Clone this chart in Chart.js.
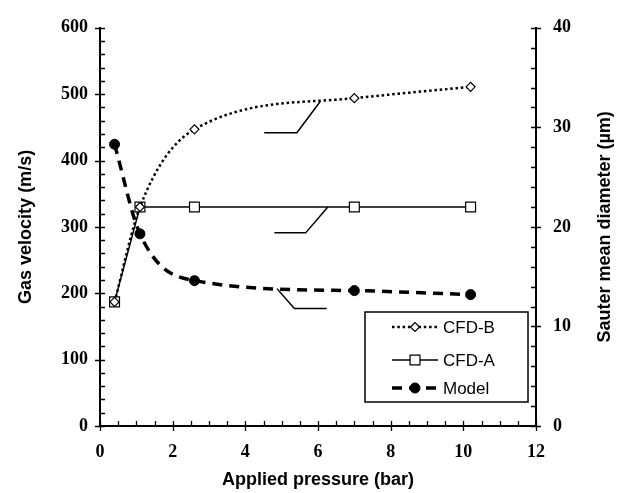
<!DOCTYPE html>
<html>
<head>
<meta charset="utf-8">
<script src="https://cdn.jsdelivr.net/npm/chart.js@4.4.1/dist/chart.umd.min.js"></script>
<style>html,body{margin:0;padding:0;background:#fff;}canvas{display:block;}</style>
</head>
<body>
<canvas id="c" width="627" height="493"></canvas>
<script>
// ---- data ----
const pressure = [0.4, 1.1, 2.6, 7.0, 10.2];
const cfdB = [187, 330, 447, 494, 511];      // gas velocity (m/s), left axis
const cfdA = [187, 330, 330, 330, 330];      // gas velocity (m/s), left axis
const model = [28.3, 19.3, 14.6, 13.6, 13.2]; // Sauter mean diameter (um), right axis
const seriesLabels = ['CFD-B', 'CFD-A', 'Model'];
const xTicks = [0, 2, 4, 6, 8, 10, 12];
const yLeftTicks = [0, 100, 200, 300, 400, 500, 600];
const yRightTicks = [0, 10, 20, 30, 40];
const rightTitle = 'Sauter mean diameter (µm)';
// callout leader lines (data units)
const calloutBx = [4.52, 5.42, 6.06], calloutBy = [442, 442, 489];
const calloutAx = [4.80, 5.66, 6.27], calloutAy = [291, 291, 330];
const calloutMx = [4.87, 5.35, 6.24], calloutMy = [13.8, 11.8, 11.8];

const pts = (xs, ys) => xs.map((x, i) => ({x: x, y: ys[i]}));

const tickFont = {family: '"Liberation Serif", "Times New Roman", serif', size: 18, weight: 'bold'};
const titleFont = {family: '"Liberation Sans", Arial, sans-serif', size: 18, weight: 'bold', lineHeight: 1.2};

const calloutStyle = {borderColor: '#000', borderWidth: 1.5, pointRadius: 0, tension: 0, fill: false, isCallout: true};

// custom minor/major tick marks + right-hand title (reads bottom to top)
const tickPlugin = {
  id: 'ticks2',
  afterDraw(chart) {
    const ctx = chart.ctx, x = chart.scales.x, yl = chart.scales.yL, yr = chart.scales.yR;
    const a = chart.chartArea;
    ctx.save();
    ctx.strokeStyle = '#000';
    ctx.lineWidth = 1.3;
    ctx.beginPath();
    for (let v = 0; v <= 12.001; v += 0.5) {
      const p = Math.round(x.getPixelForValue(v)) + 0.5;
      const major = Math.abs(v / 2 - Math.round(v / 2)) < 1e-6;
      if (major) { ctx.moveTo(p, a.bottom - 5); ctx.lineTo(p, a.bottom + 5); }
      else { ctx.moveTo(p, a.bottom); ctx.lineTo(p, a.bottom - 5); }
    }
    for (let v = 0; v <= 600.001; v += 20) {
      const p = Math.round(yl.getPixelForValue(v)) + 0.5;
      const major = v % 100 === 0;
      if (major) { ctx.moveTo(a.left - 5, p); ctx.lineTo(a.left + 5, p); }
      else { ctx.moveTo(a.left, p); ctx.lineTo(a.left + 5, p); }
    }
    for (let v = 0; v <= 40.001; v += 2) {
      const p = Math.round(yr.getPixelForValue(v)) + 0.5;
      const major = v % 10 === 0;
      if (major) { ctx.moveTo(a.right - 5, p); ctx.lineTo(a.right + 5, p); }
      else { ctx.moveTo(a.right, p); ctx.lineTo(a.right - 5, p); }
    }
    ctx.stroke();
    // right title
    ctx.translate(yr.right - 22, (a.top + a.bottom) / 2);
    ctx.rotate(-Math.PI / 2);
    ctx.fillStyle = '#000';
    ctx.font = 'bold 18px "Liberation Sans", Arial, sans-serif';
    ctx.textAlign = 'center';
    ctx.textBaseline = 'middle';
    ctx.fillText(rightTitle, 0, 0);
    ctx.restore();
  }
};

function drawMarker(ctx, style, r, cx, cy, fill, stroke, lw) {
  ctx.save();
  ctx.setLineDash([]);
  ctx.lineWidth = lw;
  ctx.strokeStyle = stroke;
  ctx.fillStyle = fill;
  ctx.beginPath();
  if (style === 'rectRot') {
    ctx.moveTo(cx - r, cy); ctx.lineTo(cx, cy - r); ctx.lineTo(cx + r, cy); ctx.lineTo(cx, cy + r); ctx.closePath();
  } else if (style === 'rect') {
    const s = r * Math.SQRT1_2;
    ctx.rect(cx - s, cy - s, 2 * s, 2 * s);
  } else {
    ctx.arc(cx, cy, r, 0, Math.PI * 2);
  }
  ctx.fill();
  ctx.stroke();
  ctx.restore();
}

// legend drawn inside the plot area
const legendPlugin = {
  id: 'innerLegend',
  afterDraw(chart) {
    const ctx = chart.ctx, a = chart.chartArea;
    const bx = a.right - 171, by = a.bottom - 114, bw = 163, bh = 90;
    ctx.save();
    ctx.fillStyle = '#fff';
    ctx.fillRect(bx, by, bw, bh);
    ctx.strokeStyle = '#000';
    ctx.lineWidth = 1.5;
    ctx.strokeRect(bx, by, bw, bh);
    const rows = [by + 15, by + 48, by + 76];
    chart.data.datasets.forEach((ds, i) => {
      if (ds.isCallout) return;
      const y = rows[i];
      const x0 = bx + 27, x1 = bx + 73, xm = (x0 + x1) / 2;
      ctx.save();
      ctx.strokeStyle = ds.borderColor;
      ctx.lineWidth = ds.borderWidth;
      ctx.setLineDash(ds.borderDash || []);
      ctx.beginPath(); ctx.moveTo(x0, y); ctx.lineTo(x1, y); ctx.stroke();
      ctx.restore();
      drawMarker(ctx, ds.pointStyle, ds.pointRadius, xm, y, ds.pointBackgroundColor, ds.pointBorderColor, ds.pointBorderWidth);
      ctx.fillStyle = '#000';
      ctx.font = '17px "Liberation Sans", Arial, sans-serif';
      ctx.textBaseline = 'middle';
      ctx.textAlign = 'left';
      ctx.fillText(ds.label, x1 + 5, y + 1);
    });
    ctx.restore();
  }
};

new Chart(document.getElementById('c'), {
  type: 'line',
  data: {
    datasets: [
      {label: seriesLabels[0], data: pts(pressure, cfdB), yAxisID: 'yL',
       borderColor: '#000', borderWidth: 2.5, borderDash: [2.5, 2.8], cubicInterpolationMode: 'monotone',
       pointStyle: 'rectRot', pointRadius: 4.5, pointBackgroundColor: '#fff', pointBorderColor: '#000', pointBorderWidth: 1.2},
      {label: seriesLabels[1], data: pts(pressure, cfdA), yAxisID: 'yL',
       borderColor: '#000', borderWidth: 1.5, tension: 0,
       pointStyle: 'rect', pointRadius: 7, pointBackgroundColor: '#fff', pointBorderColor: '#000', pointBorderWidth: 1.2},
      {label: seriesLabels[2], data: pts(pressure, model), yAxisID: 'yR',
       borderColor: '#000', borderWidth: 3.5, borderDash: [10, 7], cubicInterpolationMode: 'monotone',
       pointStyle: 'circle', pointRadius: 5, pointBackgroundColor: '#000', pointBorderColor: '#000', pointBorderWidth: 1},
      Object.assign({label: 'cB', data: pts(calloutBx, calloutBy), yAxisID: 'yL'}, calloutStyle),
      Object.assign({label: 'cA', data: pts(calloutAx, calloutAy), yAxisID: 'yL'}, calloutStyle),
      Object.assign({label: 'cM', data: pts(calloutMx, calloutMy), yAxisID: 'yR'}, calloutStyle)
    ]
  },
  options: {
    responsive: false,
    animation: false,
    devicePixelRatio: 1,
    layout: {padding: {top: 21, left: 0, right: 0, bottom: 0}},
    plugins: {legend: {display: false}, tooltip: {enabled: false}},
    scales: {
      x: {
        type: 'linear', min: 0, max: 12,
        afterBuildTicks: s => { s.ticks = xTicks.map(v => ({value: v})); },
        afterFit: s => { s.height = 67; },
        grid: {display: false, drawTicks: false},
        border: {display: true, color: '#000', width: 2},
        ticks: {color: '#000', font: tickFont, padding: 16, maxRotation: 0},
        title: {display: true, text: 'Applied pressure (bar)', color: '#000', font: titleFont, padding: {top: 0, bottom: 2}}
      },
      yL: {
        type: 'linear', position: 'left', min: 0, max: 600,
        afterBuildTicks: s => { s.ticks = yLeftTicks.map(v => ({value: v})); },
        afterFit: s => { s.width = 100; },
        grid: {display: false, drawTicks: false},
        border: {display: true, color: '#000', width: 2},
        ticks: {color: '#000', font: tickFont, padding: 12},
        title: {display: true, text: 'Gas velocity (m/s)', color: '#000', font: titleFont, padding: {top: 15, bottom: 0}}
      },
      yR: {
        type: 'linear', position: 'right', min: 0, max: 40,
        afterBuildTicks: s => { s.ticks = yRightTicks.map(v => ({value: v})); },
        afterFit: s => { s.width = 91; },
        grid: {display: false, drawTicks: false},
        border: {display: true, color: '#000', width: 2},
        ticks: {color: '#000', font: tickFont, padding: 17},
        title: {display: false, text: rightTitle}
      }
    }
  },
  plugins: [tickPlugin, legendPlugin]
});
</script>
</body>
</html>
